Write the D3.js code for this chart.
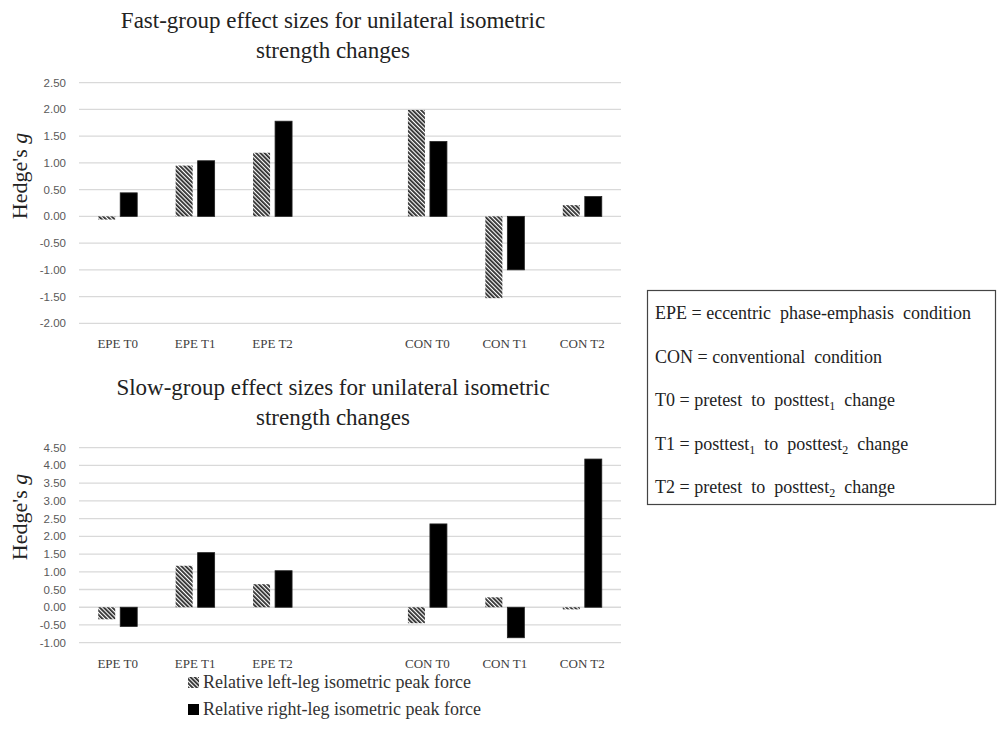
<!DOCTYPE html>
<html>
<head>
<meta charset="utf-8">
<script src="https://cdn.jsdelivr.net/npm/d3@7/dist/d3.min.js"></script>
<style>
  html, body { margin: 0; padding: 0; background: #fff; }
  svg { display: block; }
</style>
</head>
<body>
<svg id="chart" width="997" height="736"></svg>
<script>
// ---- data ----
const categories = ["EPE T0", "EPE T1", "EPE T2", "", "CON T0", "CON T1", "CON T2"];
const seriesNames = ["Relative left-leg isometric peak force", "Relative right-leg isometric peak force"];
const fastLeft  = [-0.06, 0.95, 1.19, null, 1.99, -1.53, 0.21];
const fastRight = [0.44, 1.04, 1.78, null, 1.40, -1.00, 0.37];
const slowLeft  = [-0.34, 1.17, 0.65, null, -0.45, 0.28, -0.06];
const slowRight = [-0.54, 1.54, 1.03, null, 2.35, -0.86, 4.18];
const fastTicks = [2.5, 2.0, 1.5, 1.0, 0.5, 0.0, -0.5, -1.0, -1.5, -2.0];
const slowTicks = [4.5, 4.0, 3.5, 3.0, 2.5, 2.0, 1.5, 1.0, 0.5, 0.0, -0.5, -1.0];
const fastTitle = ["Fast-group effect sizes for unilateral isometric", "strength changes"];
const slowTitle = ["Slow-group effect sizes for unilateral isometric", "strength changes"];
const yLabel = "Hedge's ";
const keyLines = [
  [["EPE = eccentric  phase-emphasis  condition"]],
  [["CON = conventional  condition"]],
  [["T0 = pretest  to  posttest"], ["1", "sub"], ["  change"]],
  [["T1 = posttest"], ["1", "sub"], ["  to  posttest"], ["2", "sub"], ["  change"]],
  [["T2 = pretest  to  posttest"], ["2", "sub"], ["  change"]]
];

const svg = d3.select("#chart");
const serif = "'Liberation Serif', 'DejaVu Serif', serif";
const sans = "'Liberation Sans', Arial, sans-serif";

// hatch pattern
const defs = svg.append("defs");
const pat = defs.append("pattern")
  .attr("id", "hatch").attr("patternUnits", "userSpaceOnUse")
  .attr("width", 3).attr("height", 3)
  .attr("patternTransform", "rotate(-45)");
pat.append("rect").attr("width", 3).attr("height", 3).attr("fill", "#ffffff");
pat.append("rect").attr("x", 0).attr("width", 1.8).attr("height", 3).attr("fill", "#2a2a2a");

const x0 = d3.scaleBand().domain(d3.range(categories.length)).range([79, 621]);
const x1 = d3.scaleBand().domain([0, 1]).range([0, 39]).paddingInner(5 / 22);
const groupOffset = (x0.bandwidth() - 39) / 2;
const fmt = v => d3.format(".2f")(v).replace("\u2212", "-");

function drawChart(cfg) {
  const g = svg.append("g");
  const y = d3.scaleLinear().domain(cfg.domain).range(cfg.range);

  // gridlines
  g.selectAll("line.grid").data(cfg.ticks).join("line")
    .attr("x1", 79).attr("x2", 621)
    .attr("y1", d => y(d)).attr("y2", d => y(d))
    .attr("stroke", "#d9d9d9").attr("stroke-width", 1.3);

  // tick labels
  g.selectAll("text.tick").data(cfg.ticks).join("text")
    .attr("x", 66).attr("y", d => y(d)).attr("dy", "0.35em")
    .attr("text-anchor", "end")
    .style("font-family", sans).attr("font-size", 11.5).attr("fill", "#595959")
    .text(d => fmt(d));

  // bars
  const seriesData = [cfg.left, cfg.right];
  seriesData.forEach((vals, si) => {
    g.selectAll("rect.s" + si)
      .data(vals.map((v, i) => ({ v, i })).filter(d => d.v !== null))
      .join("rect")
      .attr("x", d => x0(d.i) + groupOffset + x1(si))
      .attr("width", x1.bandwidth())
      .attr("y", d => y(Math.max(0, d.v)))
      .attr("height", d => Math.abs(y(d.v) - y(0)))
      .attr("fill", si === 0 ? "url(#hatch)" : "#000")
      .attr("stroke", si === 0 ? "none" : "#222")
      .attr("stroke-width", 0.8);
  });

  // category labels
  g.selectAll("text.cat").data(categories).join("text")
    .attr("x", (d, i) => x0(i) + x0.bandwidth() / 2)
    .attr("y", cfg.catY)
    .attr("text-anchor", "middle")
    .style("font-family", serif).attr("font-size", 13).attr("fill", "#404040")
    .text(d => d);

  // title
  cfg.title.forEach((t, i) => {
    g.append("text")
      .attr("x", 333).attr("y", cfg.titleY + i * 30)
      .attr("text-anchor", "middle")
      .style("font-family", serif).attr("font-size", 23).attr("fill", "#222")
      .text(t);
  });

  // y label
  const yl = g.append("text")
    .attr("transform", `translate(27,${cfg.yLabelY}) rotate(-90)`)
    .attr("text-anchor", "middle")
    .style("font-family", serif).attr("font-size", 22).attr("fill", "#222");
  yl.append("tspan").text(yLabel);
  yl.append("tspan").attr("font-style", "italic").text("g");
}

drawChart({
  domain: [-2, 2.5], range: [323.3, 82.7], ticks: fastTicks,
  left: fastLeft, right: fastRight, catY: 348, title: fastTitle, titleY: 28, yLabelY: 176
});
drawChart({
  domain: [-1, 4.5], range: [642.7, 447.7], ticks: slowTicks,
  left: slowLeft, right: slowRight, catY: 668, title: slowTitle, titleY: 395, yLabelY: 517
});

// series legend
const leg = svg.append("g");
seriesNames.forEach((name, i) => {
  const yy = 687 + i * 27;
  leg.append("rect")
    .attr("x", 188).attr("y", yy - 10).attr("width", 11).attr("height", 11)
    .attr("fill", i === 0 ? "url(#hatch)" : "#000");
  leg.append("text")
    .attr("x", 203).attr("y", yy + 1)
    .style("font-family", serif).attr("font-size", 18).attr("fill", "#333")
    .text(name);
});

// abbreviation key box
const key = svg.append("g");
key.append("rect")
  .attr("x", 647.5).attr("y", 290.5).attr("width", 348).attr("height", 214)
  .attr("fill", "#fff").attr("stroke", "#444").attr("stroke-width", 1.2);
keyLines.forEach((parts, i) => {
  const t = key.append("text")
    .attr("x", 655).attr("y", 319 + i * 43.5)
    .style("font-family", serif).attr("font-size", 18).attr("fill", "#222")
    .style("white-space", "pre");
  parts.forEach((p, j) => {
    if (p[1] === "sub") {
      t.append("tspan").attr("font-size", 12).attr("dy", 4).text(p[0]);
    } else {
      const ts = t.append("tspan").text(p[0]);
      if (j > 0) ts.attr("dy", -4);
    }
  });
});
</script>
</body>
</html>
